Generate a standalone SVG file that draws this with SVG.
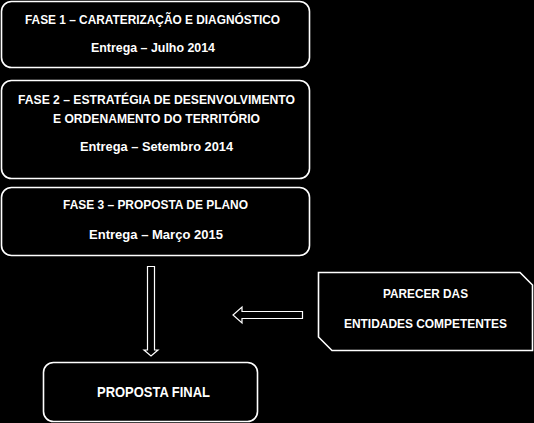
<svg xmlns="http://www.w3.org/2000/svg" width="534" height="423" viewBox="0 0 534 423">
<style>
.box{fill:#000;stroke:#fff;stroke-width:1.6}
.arr{fill:#000;stroke:#fff;stroke-width:1.2}
text{fill:#fff;font-family:"Liberation Sans",Arial,sans-serif;font-weight:bold;font-size:12.5px}
.big{font-size:14px}
</style>
<rect width="534" height="423" fill="#000"/>
<g id="fase1">
<rect class="box" x="1.5" y="1.5" width="308" height="66" rx="10"/>
<text x="25" y="24" textLength="255" lengthAdjust="spacingAndGlyphs">FASE 1 – CARATERIZAÇÃO E DIAGNÓSTICO</text>
<text x="91" y="52" textLength="124" lengthAdjust="spacingAndGlyphs">Entrega – Julho 2014</text>
</g>
<g id="fase2">
<rect class="box" x="1.5" y="80.5" width="308" height="98" rx="10"/>
<text x="18" y="104" textLength="277" lengthAdjust="spacingAndGlyphs">FASE 2 – ESTRATÉGIA DE DESENVOLVIMENTO</text>
<text x="53" y="123" textLength="207" lengthAdjust="spacingAndGlyphs">E ORDENAMENTO DO TERRITÓRIO</text>
<text x="80" y="151" textLength="153" lengthAdjust="spacingAndGlyphs">Entrega – Setembro 2014</text>
</g>
<g id="fase3">
<rect class="box" x="1.5" y="187.5" width="308" height="68" rx="10"/>
<text x="63" y="209" textLength="185" lengthAdjust="spacingAndGlyphs">FASE 3 – PROPOSTA DE PLANO</text>
<text x="89" y="239" textLength="134" lengthAdjust="spacingAndGlyphs">Entrega – Março 2015</text>
</g>
<g id="parecer">
<path class="box" d="M318.5,272.5 H520 L532.5,285 V350.5 H332 L318.5,337 Z"/>
<text x="383" y="298" textLength="85" lengthAdjust="spacingAndGlyphs">PARECER DAS</text>
<text x="344" y="328" textLength="163" lengthAdjust="spacingAndGlyphs">ENTIDADES COMPETENTES</text>
</g>
<g id="final">
<rect class="box" x="43.5" y="362.5" width="214" height="59" rx="10"/>
<text class="big" x="97" y="397" textLength="113" lengthAdjust="spacingAndGlyphs">PROPOSTA FINAL</text>
</g>
<g id="connectors">
<path class="arr" d="M147.5,266.5 H154.5 V350 H158 L151,356 L144,350 H147.5 Z"/>
<path class="arr" d="M302.5,311.5 V318.5 H242 V323 L233,315 L242,307 V311.5 Z"/>
</g>
</svg>
